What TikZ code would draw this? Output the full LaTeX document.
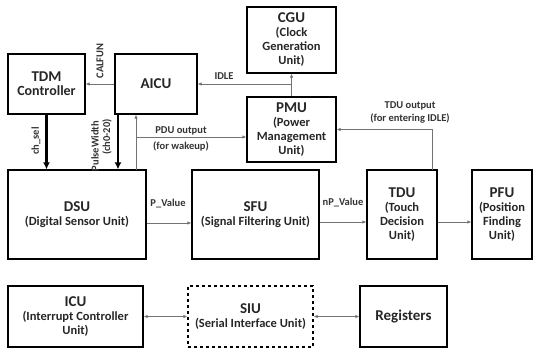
\documentclass[tikz,border=0pt]{standalone}
\usepackage{fontspec}
\setmainfont{Carlito}
\usetikzlibrary{arrows.meta,calc}
\newcommand{\ttl}{\fontsize{15}{16}\selectfont\bfseries}
\newcommand{\subt}{\fontsize{12.5}{14}\selectfont\bfseries}
\newcommand{\lbl}{\fontsize{10.5}{13}\selectfont\bfseries}
\tikzset{
  blk/.style={draw, line width=1.3pt, align=center, inner sep=0pt, font=\subt, text=black!85},
  thinarr/.style={draw=black!55, line width=0.8pt, -{Latex[length=4pt,width=3.5pt]}},
  dblarr/.style={draw=black!55, line width=0.8pt, {Latex[length=4pt,width=3.5pt]}-{Latex[length=4pt,width=3.5pt]}},
  thickarr/.style={draw=black, line width=2.2pt, -{Latex[length=7pt,width=7pt]}},
  lab/.style={font=\lbl, text=black!80, inner sep=0pt, align=center}
}
\begin{document}
\begin{tikzpicture}[x=1pt,y=-1pt]
\useasboundingbox (0,0) rectangle (534,348);
% boxes
\node[blk, minimum width=77, minimum height=60] (tdm) at (46.5,84) {{\ttl TDM}\\{\fontsize{14}{15}\selectfont\bfseries Controller}};
\node[blk, minimum width=82, minimum height=60] (aicu) at (156,84) {{\ttl AICU}};
\node[blk, minimum width=89, minimum height=66] (cgu) at (291.5,40) {{\ttl CGU}\\(Clock\\Generation\\Unit)};
\node[blk, minimum width=89, minimum height=65] (pmu) at (291.5,129.5) {{\ttl PMU}\\(Power\\Management\\Unit)};
\node[blk, minimum width=138, minimum height=89] (dsu) at (77,214.5) {{\ttl DSU}\\(Digital Sensor Unit)};
\node[blk, minimum width=127, minimum height=89] (sfu) at (255.5,214.5) {{\ttl SFU}\\(Signal Filtering Unit)};
\node[blk, minimum width=70, minimum height=89] (tdu) at (402,214.5) {{\ttl TDU}\\(Touch\\Decision\\Unit)};
\node[blk, minimum width=60, minimum height=89] (pfu) at (502,214.5) {{\ttl PFU}\\(Position\\Finding\\Unit)};
\node[blk, minimum width=135, minimum height=61] (icu) at (75.5,316.5) {{\ttl ICU}\\(Interrupt Controller\\Unit)};
\node[blk, dashed, minimum width=125, minimum height=61] (siu) at (250.5,316.5) {{\ttl SIU}\\(Serial Interface Unit)};
\node[blk, minimum width=87, minimum height=61] (reg) at (403.5,316.5) {{\ttl Registers}};
% connectors
\draw[thinarr] (aicu.west) -- (tdm.east);
\node[lab, rotate=90] (calfun) at (100,61) {CALFUN};
\draw[thinarr] (pmu.north) -- (cgu.south);
\draw[thinarr] (pmu.north |- aicu.east) -- (aicu.east);
\node[lab] (idle) at (224,76) {IDLE};
\draw[thickarr] (tdm.south) -- (tdm.south |- dsu.north);
\node[lab, rotate=90] (chsel) at (36,141) {ch\_sel};
\coordinate (pw) at (118,114);
\draw[thickarr] (pw) -- (pw |- dsu.north);
\node[lab, rotate=90] (pwl) at (95,146) {PulseWidth};
\node[lab, rotate=90] (chl) at (107,137) {(ch0-20)};
\coordinate (pd) at (136,170);
\draw[thinarr] (pd) -- (pd |- aicu.south);
\coordinate (pb) at (136,137);
\draw[thinarr] (pb) -- (pb -| pmu.west);
\node[lab] (pdul) at (181,131) {PDU output};
\node[lab] (pdul2) at (181,146) {(for wakeup)};
\coordinate (tu) at (432,170);
\draw[thinarr] (tu) |- (pmu.east);
\node[lab] (tdul) at (410,112) {TDU output\\(for entering IDLE)};
\draw[thinarr] (dsu.east |- 0,223) -- (sfu.west |- 0,223);
\node[lab] (pv) at (168,204) {P\_Value};
\draw[thinarr] (sfu.east |- 0,222) -- (tdu.west |- 0,222);
\node[lab] (npv) at (343,203) {nP\_Value};
\draw[thinarr] (tdu.east |- 0,222) -- (pfu.west |- 0,222);
\draw[dblarr] (icu.east) -- (siu.west);
\draw[dblarr] (siu.east) -- (reg.west);
\end{tikzpicture}
\end{document}
